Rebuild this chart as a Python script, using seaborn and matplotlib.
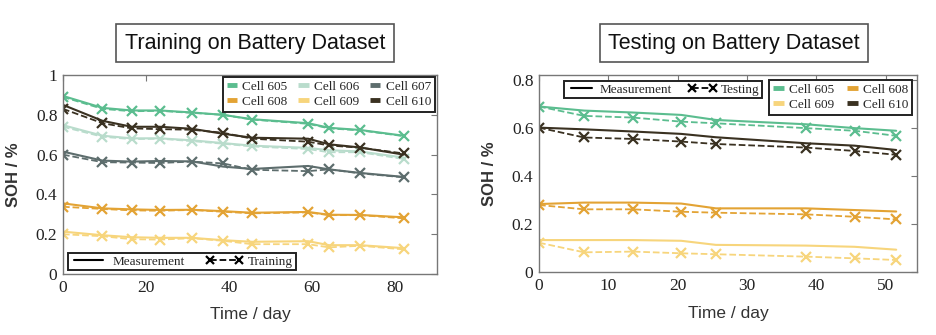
import matplotlib
matplotlib.use("Agg")
import matplotlib.pyplot as plt
from matplotlib.lines import Line2D
from matplotlib.ticker import FuncFormatter
import seaborn as sns
import numpy as np

# ---------------- data ----------------
cells_train = ["Cell 605", "Cell 606", "Cell 607", "Cell 608", "Cell 609", "Cell 610"]
days_train = [0, 9.5, 16.5, 23.3, 31, 38.5, 45.5, 59, 64, 71.5, 82]

meas_605 = [0.895, 0.835, 0.822, 0.822, 0.812, 0.800, 0.778, 0.758, 0.735, 0.724, 0.695]
train_605 = [0.890, 0.830, 0.818, 0.820, 0.810, 0.800, 0.776, 0.755, 0.732, 0.722, 0.693]
meas_606 = [0.748, 0.695, 0.682, 0.682, 0.672, 0.658, 0.645, 0.634, 0.622, 0.616, 0.585]
train_606 = [0.740, 0.690, 0.678, 0.680, 0.668, 0.655, 0.641, 0.628, 0.612, 0.612, 0.578]
meas_607 = [0.615, 0.570, 0.565, 0.568, 0.566, 0.540, 0.528, 0.543, 0.526, 0.508, 0.488]
train_607 = [0.600, 0.562, 0.560, 0.558, 0.565, 0.556, 0.524, 0.517, 0.526, 0.506, 0.486]
meas_608 = [0.355, 0.330, 0.325, 0.322, 0.323, 0.316, 0.308, 0.312, 0.298, 0.297, 0.285]
train_608 = [0.338, 0.327, 0.320, 0.318, 0.322, 0.313, 0.305, 0.310, 0.296, 0.296, 0.280]
meas_609 = [0.213, 0.195, 0.185, 0.182, 0.182, 0.170, 0.162, 0.165, 0.145, 0.145, 0.130]
train_609 = [0.200, 0.190, 0.175, 0.173, 0.180, 0.167, 0.150, 0.150, 0.134, 0.142, 0.124]
meas_610 = [0.850, 0.770, 0.740, 0.740, 0.730, 0.705, 0.685, 0.680, 0.652, 0.636, 0.600]
train_610 = [0.830, 0.758, 0.732, 0.728, 0.725, 0.710, 0.680, 0.665, 0.646, 0.635, 0.606]

cells_test = ["Cell 605", "Cell 608", "Cell 609", "Cell 610"]
days_test = [0, 6.5, 13.5, 20.5, 25.5, 38.5, 45.5, 51.5]

tmeas_605 = [0.689, 0.672, 0.664, 0.654, 0.633, 0.615, 0.599, 0.588]
test_605 = [0.689, 0.650, 0.643, 0.626, 0.619, 0.599, 0.588, 0.567]
tmeas_608 = [0.283, 0.289, 0.289, 0.285, 0.265, 0.265, 0.258, 0.252]
test_608 = [0.279, 0.261, 0.261, 0.251, 0.247, 0.240, 0.230, 0.219]
tmeas_609 = [0.133, 0.133, 0.133, 0.130, 0.113, 0.110, 0.105, 0.093]
test_609 = [0.122, 0.082, 0.085, 0.078, 0.074, 0.064, 0.057, 0.050]
tmeas_610 = [0.601, 0.594, 0.585, 0.575, 0.561, 0.536, 0.526, 0.508]
test_610 = [0.601, 0.560, 0.554, 0.543, 0.533, 0.518, 0.504, 0.488]

colors = {
    "Cell 605": "#5bbd8f",
    "Cell 606": "#b9dccc",
    "Cell 607": "#5d6d6d",
    "Cell 608": "#e3a334",
    "Cell 609": "#f7d57c",
    "Cell 610": "#3a3121",
}

train_meas = {"Cell 605": meas_605, "Cell 606": meas_606, "Cell 607": meas_607,
              "Cell 608": meas_608, "Cell 609": meas_609, "Cell 610": meas_610}
train_pred = {"Cell 605": train_605, "Cell 606": train_606, "Cell 607": train_607,
              "Cell 608": train_608, "Cell 609": train_609, "Cell 610": train_610}
test_meas = {"Cell 605": tmeas_605, "Cell 608": tmeas_608, "Cell 609": tmeas_609, "Cell 610": tmeas_610}
test_pred = {"Cell 605": test_605, "Cell 608": test_608, "Cell 609": test_609, "Cell 610": test_610}

# ---------------- style ----------------
sns.set_style("white")
plt.rcParams["font.family"] = ["Liberation Serif", "DejaVu Serif"]

fig = plt.figure(figsize=(9.36, 3.35), dpi=100)
ax1 = fig.add_axes([0.0673, 0.182, 0.3996, 0.594])
ax2 = fig.add_axes([0.5759, 0.188, 0.4038, 0.588])

def draw(ax, days, meas, pred, cells):
    for c in cells:
        sns.lineplot(x=days, y=meas[c], ax=ax, color=colors[c], linewidth=1.5,
                     estimator=None, sort=False, legend=False)
        sns.lineplot(x=days, y=pred[c], ax=ax, color=colors[c], linewidth=1.3,
                     linestyle="--", marker="x", markersize=7.5, markeredgewidth=1.6,
                     markeredgecolor=colors[c], markerfacecolor=colors[c],
                     estimator=None, sort=False, legend=False)

draw(ax1, days_train, train_meas, train_pred, cells_train)
draw(ax2, days_test, test_meas, test_pred, cells_test)

fmt = FuncFormatter(lambda v, p: f"{v:g}")
for ax in (ax1, ax2):
    for s in ax.spines.values():
        s.set_color("#777777")
        s.set_linewidth(1.0)
    ax.tick_params(direction="in", top=True, right=True, length=4, width=0.8,
                   color="#777777", labelsize=12.5, pad=4, labelcolor="#222222")
    ax.yaxis.set_major_formatter(fmt)
    ax.set_xlabel("Time / day", fontsize=12.5, family=["Liberation Sans"], color="#333333")
    ax.set_ylabel("SOH / %", fontsize=12, family=["Liberation Sans"], fontweight="bold", color="#333333")

ax1.set_xlim(0, 90)
ax1.set_ylim(0, 1)
ax1.set_xticks([0, 20, 40, 60, 80])
ax1.set_yticks([0, 0.2, 0.4, 0.6, 0.8, 1.0])
ax2.set_xlim(0, 54.5)
ax2.set_ylim(0, 0.82)
ax2.set_xticks([0, 10, 20, 30, 40, 50])
ax2.set_yticks([0, 0.2, 0.4, 0.6, 0.8])

ax1.yaxis.set_label_coords(-0.113, 0.5)
ax2.yaxis.set_label_coords(-0.111, 0.5)
ax1.xaxis.set_label_coords(0.5, -0.165)
ax2.xaxis.set_label_coords(0.5, -0.175)

def cell_handle(c):
    return Line2D([0], [0], color=colors[c], linewidth=3.5, solid_capstyle="butt")

def style_leg(leg):
    fr = leg.get_frame()
    fr.set_edgecolor("#222222")
    fr.set_linewidth(1.4)
    fr.set_facecolor("white")
    fr.set_alpha(1)

# left cell legend (rows: 605 606 607 / 608 609 610)
order1 = ["Cell 605", "Cell 608", "Cell 606", "Cell 609", "Cell 607", "Cell 610"]
leg1 = ax1.legend([cell_handle(c) for c in order1], order1, ncol=3, loc="upper right",
                  bbox_to_anchor=(0.998, 0.998), fontsize=9.5, frameon=True, fancybox=False,
                  handlelength=0.8, handletextpad=0.4, columnspacing=0.8,
                  borderpad=0.3, labelspacing=0.2, borderaxespad=0.1)
style_leg(leg1)
ax1.add_artist(leg1)

meas_h = Line2D([0], [0], color="black", linewidth=1.5)
train_h = Line2D([0], [0], color="black", linewidth=1.3, linestyle="--", marker="x",
                 markersize=5.5, markeredgewidth=1.6)
leg1b = ax1.legend([meas_h, train_h], ["Measurement", "Training"], ncol=2, loc="lower left",
                   bbox_to_anchor=(0.005, 0.005), fontsize=9.5, frameon=True, fancybox=False,
                   handlelength=2.8, handletextpad=0.4, columnspacing=1.6, numpoints=2,
                   borderpad=0.2, borderaxespad=0.2)
style_leg(leg1b)

# right legends
order2 = ["Cell 605", "Cell 609", "Cell 608", "Cell 610"]
leg2 = ax2.legend([cell_handle(c) for c in order2], order2, ncol=2, loc="upper right",
                  bbox_to_anchor=(0.995, 0.99), fontsize=9.5, frameon=True, fancybox=False,
                  handlelength=0.8, handletextpad=0.4, columnspacing=1.0,
                  borderpad=0.3, labelspacing=0.2, borderaxespad=0.2)
style_leg(leg2)
ax2.add_artist(leg2)

test_h = Line2D([0], [0], color="black", linewidth=1.3, linestyle="--", marker="x",
                markersize=5.5, markeredgewidth=1.6)
leg2b = ax2.legend([meas_h, test_h], ["Measurement", "Testing"], ncol=2, loc="upper left",
                   bbox_to_anchor=(0.06, 0.985), fontsize=9.5, frameon=True, fancybox=False,
                   handlelength=2.2, handletextpad=0.3, columnspacing=1.2, numpoints=2,
                   borderpad=0.2, borderaxespad=0.2)
style_leg(leg2b)

# boxed titles
box = dict(boxstyle="square,pad=0.4", facecolor="white", edgecolor="#555555", linewidth=1.2)
fig.text(255 / 936, 1 - 43 / 335, "Training on Battery Dataset", ha="center", va="center",
         fontsize=15.5, family=["Liberation Sans"], color="#111111", bbox=box)
fig.text(734 / 936, 1 - 43 / 335, "Testing on Battery Dataset", ha="center", va="center",
         fontsize=15.5, family=["Liberation Sans"], color="#111111", bbox=box)

fig.savefig("out.png", dpi=100)
